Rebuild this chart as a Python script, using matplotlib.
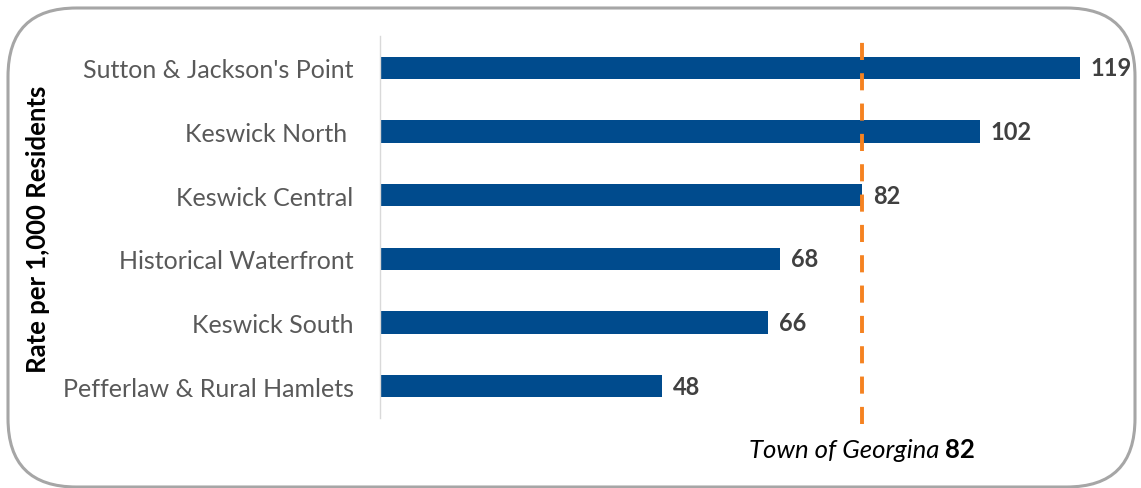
import matplotlib
matplotlib.use("Agg")
import matplotlib.pyplot as plt
from matplotlib.patches import FancyBboxPatch

categories = ["Sutton & Jackson's Point", "Keswick North ", "Keswick Central",
              "Historical Waterfront", "Keswick South", "Pefferlaw & Rural Hamlets"]
values = [119, 102, 82, 68, 66, 48]
town_value = 82
town_label = "Town of Georgina"
y_label = "Rate per 1,000 Residents"

plt.rcParams['font.family'] = ['Lato', 'DejaVu Sans']

fig = plt.figure(figsize=(11.41, 4.89), dpi=100)
W, H = 1141, 489
ax = fig.add_axes([380 / W, 70 / H, (1115 - 380) / W, (452 - 70) / H])

ypos = list(range(len(categories)))[::-1]
bars = ax.barh(ypos, values, height=0.35, color="#004B8D", zorder=2)
ax.bar_label(bars, labels=[str(v) for v in values], padding=8,
             fontsize=17, fontweight='bold', color="#404040")

ax.set_xlim(0, 125)
ax.set_ylim(-0.5, len(categories) - 0.5)
ax.set_yticks(ypos)
ax.set_yticklabels(categories, fontsize=18, color="#595959")
ax.tick_params(axis='y', length=0, pad=19)
ax.set_xticks([])
for s in ['top', 'right', 'bottom']:
    ax.spines[s].set_visible(False)
ax.spines['left'].set_color("#D9D9D9")
ax.spines['left'].set_linewidth(1)

ax.axvline(town_value, ymin=-0.015, ymax=1.015, color="#F58220", lw=2.8,
           linestyle=(0, (4.4, 3.4)), zorder=3, clip_on=False)

# composed label centered on the line
fig.canvas.draw()
renderer = fig.canvas.get_renderer()
xpix = ax.transData.transform((town_value, 0))[0]
t1 = fig.text(0, 0, town_label + " ", fontsize=18.5, fontstyle='italic', color='black',
              ha='left', va='baseline')
t2 = fig.text(0, 0, str(town_value), fontsize=18.5, fontweight='bold', color='black',
              ha='left', va='baseline')
w1 = t1.get_window_extent(renderer).width
w2 = t2.get_window_extent(renderer).width
x0 = xpix - (w1 + w2) / 2
yb = (H - 458) / H
t1.set_position((x0 / W, yb))
t2.set_position(((x0 + w1) / W, yb))

fig.text(38 / W, (H - 229) / H, y_label, rotation=90, fontsize=18.5, fontweight='bold',
         color='black', ha='center', va='center')

box = FancyBboxPatch((8 / W, 1 / H), (1135 - 8) / W, (480 - 1) / H,
                     boxstyle="round,pad=0,rounding_size=0.06",
                     transform=fig.transFigure, fill=False,
                     edgecolor="#A6A6A6", linewidth=2.2, mutation_aspect=W / H)
fig.patches.append(box)

fig.savefig("out.png", dpi=100)
